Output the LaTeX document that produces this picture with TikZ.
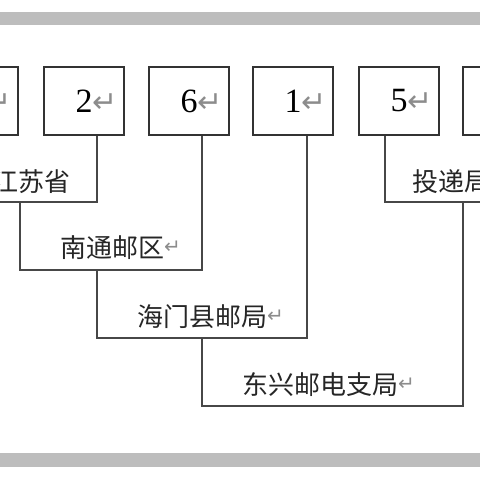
\documentclass[tikz,border=0pt]{standalone}
\usepackage{fontspec, xcolor}
\setmainfont{Liberation Serif}
\newfontfamily\cjk{Noto Sans CJK SC}
\newfontfamily\symb{DejaVu Sans}
\definecolor{bandgray}{HTML}{BDBDBD}
\definecolor{inkgray}{HTML}{333333}
\newcommand{\pmark}[1]{{\symb\fontsize{#1}{#1}\selectfont\color{black!45}↵}}

\begin{document}
\begin{tikzpicture}[x=1pt, y=-1pt]
\tikzstyle{digitbox}=[rectangle, draw=inkgray, line width=1.6pt, minimum width=80pt, minimum height=68pt, inner sep=0pt, font=\fontsize{34}{34}\selectfont]
\tikzstyle{place}=[anchor=west, inner sep=0pt, text=black!85, font=\cjk\fontsize{26}{26}\selectfont]
\tikzstyle{linkstyle}=[draw=inkgray!90, line width=1.3pt]

\clip (0,0) rectangle (480,480);
\fill[white] (0,0) rectangle (480,480);
\fill[bandgray] (0,12) rectangle (480,25);
\fill[bandgray] (0,453) rectangle (480,467);

\node[digitbox] (B0) at (-22,101) {\phantom{0}\rlap{\pmark{30}}};
\node[digitbox] (B1) at (84,101) {2\rlap{\pmark{30}}};
\node[digitbox] (B2) at (189,101) {6\rlap{\pmark{30}}};
\node[digitbox] (B3) at (293,101) {1\rlap{\pmark{30}}};
\node[digitbox] (B4) at (399,101) {5\rlap{\pmark{30}}};
\node[digitbox] (B5) at (503,101) {};

\node[place] (P0) at (-8,182) {江苏省};
\node[place] (P1) at (60,248) {南通邮区\raisebox{4pt}{\pmark{20}}};
\node[place] (P2) at (137,317) {海门县邮局\raisebox{4pt}{\pmark{20}}};
\node[place] (P3) at (242,385) {东兴邮电支局\raisebox{4pt}{\pmark{20}}};
\node[place] (P4) at (412,182) {投递局\raisebox{4pt}{\pmark{20}}};

\coordinate (J0) at (20,202);
\coordinate (J1) at (97,270);
\coordinate (J2) at (202,338);
\coordinate (J3) at (330,406);
\coordinate (J4) at (463,202);

\draw[linkstyle] (B0.south) |- (J0) -| ([xshift=13pt]B1.south);
\draw[linkstyle] (J0) |- (J1) -| ([xshift=13pt]B2.south);
\draw[linkstyle] (J1) |- (J2) -| ([xshift=14pt]B3.south);
\draw[linkstyle] (J2) |- (J3) -| (J4);
\draw[linkstyle] ([xshift=-14pt]B4.south) |- (J4) -| (B5.south);
\end{tikzpicture}
\end{document}
